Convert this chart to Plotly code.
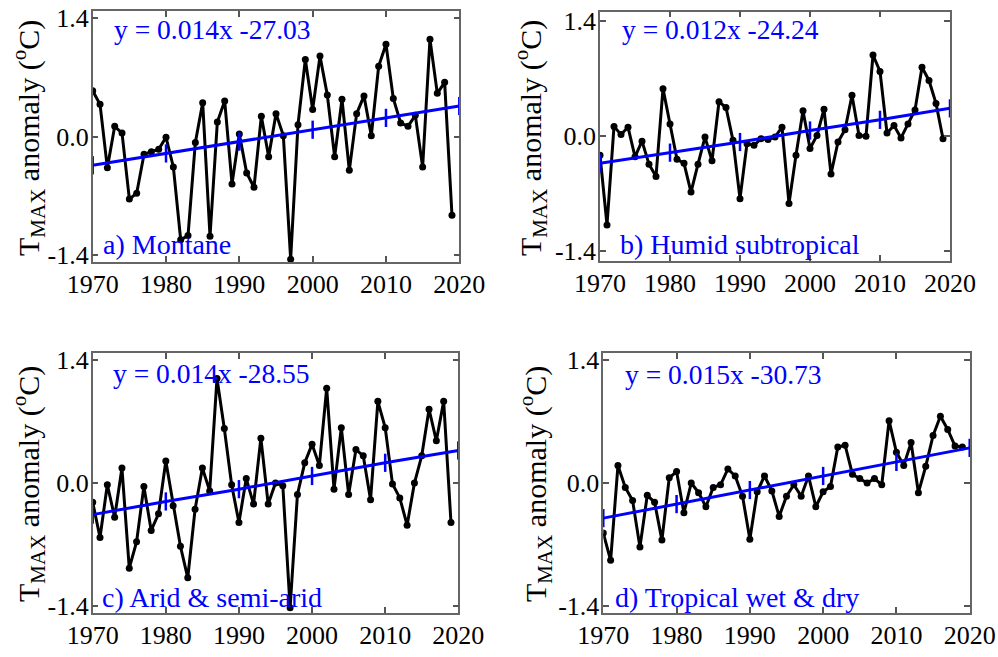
import plotly.graph_objects as go

# ---------------- data ----------------
years = list(range(1970, 2020))

montane = [0.54, 0.38, -0.37, 0.12, 0.04, -0.74, -0.67, -0.21, -0.18, -0.15,
           -0.01, -0.36, -1.22, -1.17, -0.07, 0.40, -1.18, 0.17, 0.42, -0.56,
           0.03, -0.43, -0.60, 0.24, -0.24, 0.27, 0.01, -1.45, 0.14, 0.91,
           0.32, 0.95, 0.49, -0.24, 0.44, -0.40, 0.27, 0.48, 0.01, 0.83,
           1.09, 0.45, 0.16, 0.12, 0.25, -0.36, 1.15, 0.51, 0.64, -0.93]

humid = [-0.23, -1.08, 0.12, 0.02, 0.11, -0.25, -0.06, -0.34, -0.49, 0.58,
         0.15, -0.28, -0.33, -0.68, -0.34, -0.01, -0.30, 0.42, 0.35, -0.05,
         -0.76, -0.09, -0.11, -0.03, -0.04, -0.01, 0.11, -0.82, -0.23, 0.31,
         -0.15, 0.01, 0.33, -0.46, -0.07, 0.08, 0.50, 0.01, 0.00, 0.99,
         0.79, 0.04, 0.13, -0.02, 0.15, 0.32, 0.84, 0.68, 0.40, -0.03]

arid = [-0.22, -0.62, -0.02, -0.39, 0.17, -0.97, -0.67, -0.04, -0.54, -0.35,
        0.25, -0.26, -0.72, -1.08, -0.30, 0.17, -0.09, 1.19, 0.62, -0.02,
        -0.45, 0.05, -0.24, 0.51, -0.24, 0.00, -0.03, -1.42, -0.13, 0.23,
        0.44, 0.20, 1.08, -0.07, 0.63, -0.13, 0.38, 0.31, -0.19, 0.93,
        0.63, -0.01, -0.17, -0.48, 0.00, 0.31, 0.84, 0.48, 0.93, -0.45]

tropical = [-0.57, -0.88, 0.20, -0.05, -0.20, -0.73, -0.14, -0.22, -0.65, 0.06,
            0.13, -0.34, 0.00, -0.11, -0.27, -0.05, -0.02, 0.16, 0.08, -0.15,
            -0.64, -0.10, 0.08, -0.09, -0.38, -0.15, -0.02, -0.15, 0.08, -0.27,
            -0.10, -0.04, 0.41, 0.43, 0.10, 0.05, 0.00, 0.05, -0.02, 0.71,
            0.35, 0.20, 0.46, -0.11, 0.19, 0.54, 0.76, 0.61, 0.42, 0.41]

trend_years = [1970, 1980, 1990, 2000, 2010, 2020]
trend_a = [-0.34, -0.20, -0.06, 0.08, 0.22, 0.36]
trend_b = [-0.33, -0.20, -0.07, 0.07, 0.20, 0.34]
trend_c = [-0.36, -0.21, -0.07, 0.08, 0.23, 0.37]
trend_d = [-0.40, -0.24, -0.08, 0.08, 0.24, 0.40]

equations = ["y = 0.014x -27.03", "y = 0.012x -24.24",
             "y = 0.014x -28.55", "y = 0.015x -30.73"]
panel_names = ["a) Montane", "b) Humid subtropical",
               "c) Arid &amp; semi-arid", "d) Tropical wet &amp; dry"]
x_ticks = [1970, 1980, 1990, 2000, 2010, 2020]
y_ticks = [-1.4, 0.0, 1.4]
y_tick_labels = ["-1.4", "0.0", "1.4"]
y_title = "T<sub>MAX</sub> anomaly (<sup>o</sup>C)"

series = [montane, humid, arid, tropical]
trends = [trend_a, trend_b, trend_c, trend_d]

# ---------------- layout geometry (pixels) ----------------
W, H = 998, 657
boxes = [(92.7, 11, 459.3, 262, 1.483),
         (600, 11.5, 950, 261, 1.52),
         (92.7, 353, 458.3, 613, 1.48),
         (603.3, 353, 969.7, 613, 1.48)]
eq_pos = [(112, 29), (620, 29), (111, 373), (623, 374)]
lab_pos = [(101, 244), (618, 244), (100, 597), (613, 597)]
yt_pos = [(28, 138), (530, 138), (28, 484), (535, 484)]

FONT = "Liberation Serif"
BLUE = "#0000ff"

fig = go.Figure()
layout = dict(width=W, height=H,
              margin=dict(l=0, r=0, t=0, b=0, pad=0, autoexpand=False),
              paper_bgcolor="white", plot_bgcolor="white",
              showlegend=False, font=dict(family=FONT, size=26, color="black"))
annotations = []

for i in range(4):
    L, T, R, B, yr = boxes[i]
    xa = "xaxis" if i == 0 else f"xaxis{i+1}"
    ya = "yaxis" if i == 0 else f"yaxis{i+1}"
    xr = "x" if i == 0 else f"x{i+1}"
    yref = "y" if i == 0 else f"y{i+1}"
    layout[xa] = dict(domain=[L / W, R / W], range=[1970, 2020], anchor=yref,
                      automargin=False, ticklabelstandoff=-2,
                      tickmode="array", tickvals=x_ticks,
                      ticktext=[str(v) for v in x_ticks],
                      ticks="inside", ticklen=6, tickwidth=1.5, tickcolor="#555",
                      showline=True, linecolor="#666", linewidth=1.5, mirror="ticks",
                      showgrid=False, zeroline=False,
                      tickfont=dict(family=FONT, size=26, color="black"))
    layout[ya] = dict(domain=[1 - B / H, 1 - T / H], range=[-yr, yr], anchor=xr,
                      automargin=False, ticklabelstandoff=-3,
                      tickmode="array", tickvals=y_ticks, ticktext=y_tick_labels,
                      ticks="inside", ticklen=6, tickwidth=1.5, tickcolor="#555",
                      showline=True, linecolor="#666", linewidth=1.5, mirror="ticks",
                      showgrid=False, zeroline=False,
                      tickfont=dict(family=FONT, size=26, color="black"))
    fig.add_trace(go.Scatter(x=years, y=series[i], xaxis=xr, yaxis=yref,
                             mode="lines+markers",
                             line=dict(color="black", width=3),
                             marker=dict(color="black", size=7)))
    fig.add_trace(go.Scatter(x=trend_years, y=trends[i], xaxis=xr, yaxis=yref,
                             mode="lines+markers", cliponaxis=False,
                             line=dict(color=BLUE, width=3),
                             marker=dict(symbol="line-ns", size=13,
                                         line=dict(color=BLUE, width=2.5))))
    ex, ey = eq_pos[i]
    annotations.append(dict(xref="paper", yref="paper", x=ex / W, y=1 - ey / H,
                            xanchor="left", yanchor="middle", showarrow=False,
                            text=equations[i],
                            font=dict(family=FONT, size=27.5, color=BLUE)))
    lx, ly = lab_pos[i]
    annotations.append(dict(xref="paper", yref="paper", x=lx / W, y=1 - ly / H,
                            xanchor="left", yanchor="middle", showarrow=False,
                            text=panel_names[i],
                            font=dict(family=FONT, size=28, color=BLUE)))
    tx, ty = yt_pos[i]
    annotations.append(dict(xref="paper", yref="paper", x=tx / W, y=1 - ty / H,
                            xanchor="center", yanchor="middle", showarrow=False,
                            textangle=-90, text=y_title,
                            font=dict(family=FONT, size=30, color="black")))

layout["annotations"] = annotations
fig.update_layout(**layout)
fig.write_html("out.html", config={"displayModeBar": False},
               post_script="document.body.style.margin='0';document.body.style.padding='0';")
